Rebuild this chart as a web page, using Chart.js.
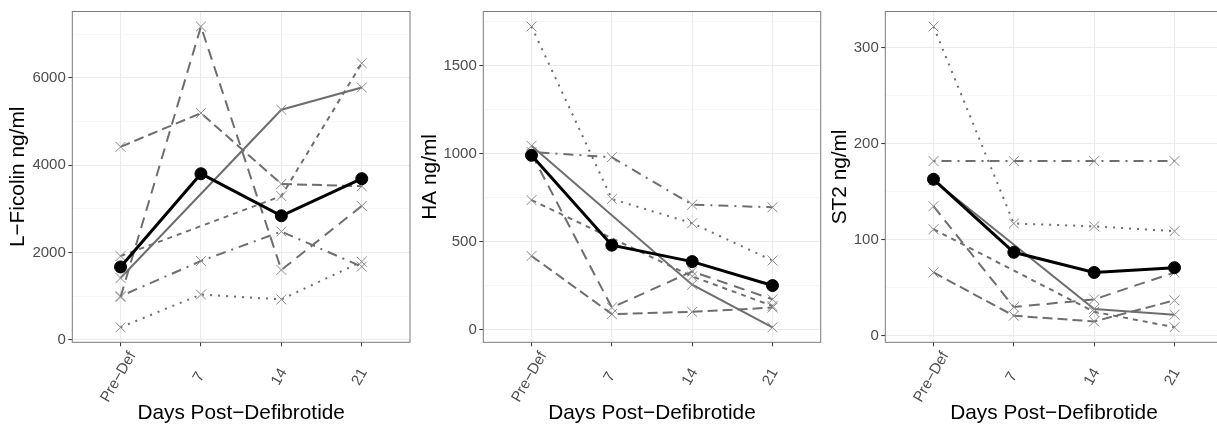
<!DOCTYPE html>
<html><head><meta charset="utf-8">
<script src="https://cdn.jsdelivr.net/npm/chart.js@4/dist/chart.umd.min.js"></script>
<style>
html,body{margin:0;padding:0;background:#fff;overflow:hidden;width:1217px;height:428px;position:relative;}
.p{position:absolute;top:0;height:428px;}
canvas{display:block;}
</style></head><body>
<div class="p" style="left:0px;width:420px"><canvas id="c1" width="420" height="428"></canvas></div>
<div class="p" style="left:420px;width:410px"><canvas id="c2" width="410" height="428"></canvas></div>
<div class="p" style="left:830px;width:402px"><canvas id="c3" width="402" height="428"></canvas></div>
<script>
// ---------- data ----------
const days = ['Pre\u2212Def', '7', '14', '21'];

// L-Ficolin (ng/ml)
const ficSolid   = [1414, null, 5270, 5780];
const ficShort   = [1917, null, 3292, 6336];
const ficDash    = [4420, 5193, 3570, 3518];
const ficLong    = [980, 7177, 1600, 3066];
const ficDotDash = [999, 1804, 2480, 1676];
const ficDot     = [286, 1037, 924, 1789];
const ficMean    = [1669, 3804, 2841, 3691];
const ficMajor   = [0, 2000, 4000, 6000];
const ficMinor   = [1000, 3000, 5000, 7000];

// HA (ng/ml)
const haSolid   = [1045, null, 257, 15];
const haShort   = [737, null, 304, 136];
const haDash    = [420, 90, 103, 127];
const haLong    = [1000, 127, 332, 174];
const haDotDash = [1010, 980, 711, 696];
const haDot     = [1722, 743, 606, 394];
const haMean    = [991, 481, 388, 252];
const haMajor   = [0, 500, 1000, 1500];
const haMinor   = [250, 750, 1250, 1750];

// ST2 (ng/ml)
const stSolid   = [162, null, 28, 22];
const stShort   = [111, null, 25, 9];
const stDash    = [66, 21, 15, 37];
const stLong    = [135, 30, 38, 66];
const stDotDash = [182, 182, 182, 182];
const stDot     = [322, 117, 114, 109];
const stMean    = [163, 87, 66, 71];
const stMajor   = [0, 100, 200, 300];
const stMinor   = [50, 150, 250];

// ---------- styles ----------
const FONT = '"Liberation Sans", Arial, Helvetica, sans-serif';
Chart.defaults.font.family = FONT;
const dashes = {
  solid: [], short: [5, 5], dash: [10, 5], long: [11, 7], dot: [2, 6], dotdash: [2, 6, 10, 6]
};

function toPts(vals) { return vals.map((v, i) => ({ x: i + 1, y: v })); }
function patient(vals, dash) {
  return {
    data: toPts(vals), borderColor: '#6e6e6e', borderWidth: 2, borderDash: dash,
    pointStyle: 'crossRot', pointRadius: 7, pointBorderColor: '#8a8a8a', pointBorderWidth: 1,
    pointBackgroundColor: 'rgba(0,0,0,0)', spanGaps: true, tension: 0, fill: false
  };
}
function meanSet(vals) {
  return {
    data: toPts(vals), borderColor: '#000', borderWidth: 3, pointStyle: 'circle',
    pointRadius: 6, pointBackgroundColor: '#000', pointBorderColor: '#000', pointBorderWidth: 1,
    tension: 0, fill: false
  };
}

const deco = {
  id: 'deco',
  afterDraw(chart, args, o) {
    const { ctx, chartArea: a, scales: { x } } = chart;
    ctx.save();
    ctx.strokeStyle = '#7a7a7a'; ctx.lineWidth = 1;
    ctx.strokeRect(a.left, a.top, a.right - a.left, a.bottom - a.top);
    ctx.fillStyle = '#4D4D4D';
    ctx.font = '15px ' + FONT;
    ctx.textAlign = 'center'; ctx.textBaseline = 'middle';
    days.forEach((d, i) => {
      const px = x.getPixelForValue(i + 1);
      ctx.save(); ctx.translate(px - 2, 377); ctx.rotate(-Math.PI / 3);
      ctx.fillText(d, 0, 0); ctx.restore();
    });
    ctx.fillStyle = '#000';
    ctx.font = '20.8px ' + FONT;
    ctx.fillText('Days Post\u2212Defibrotide', (a.left + a.right) / 2, 413);
    ctx.save(); ctx.translate(o.titleX, (a.top + a.bottom) / 2); ctx.rotate(-Math.PI / 2);
    ctx.fillText(o.yTitle, 0, 0); ctx.restore();
    ctx.restore();
  }
};

function makeChart(id, sets, meanVals, major, minor, yMin, yMax, yWidth, padRight, titleX, yTitle) {
  const all = major.concat(minor).sort((p, q) => p - q);
  const isMajor = v => major.includes(v);
  const datasets = [meanSet(meanVals)].concat(sets.map(s => patient(s[0], s[1])));
  new Chart(document.getElementById(id), {
    type: 'line',
    data: { datasets },
    plugins: [deco],
    options: {
      responsive: false, animation: false, devicePixelRatio: 1,
      layout: { padding: { top: 7.3, right: padRight, left: 0, bottom: 0 } },
      plugins: { legend: { display: false }, tooltip: { enabled: false }, deco: { titleX, yTitle } },
      scales: {
        x: {
          type: 'linear', min: 0.4, max: 4.6,
          afterBuildTicks: s => { s.ticks = days.map((d, i) => ({ value: i + 1 })); },
          ticks: { display: false },
          grid: { color: '#EBEBEB', lineWidth: 1.1, tickColor: '#333333', tickLength: 4, tickWidth: 1 },
          border: { display: false },
          afterFit: s => { s.height = 85.7; }
        },
        y: {
          type: 'linear', min: yMin, max: yMax,
          afterBuildTicks: s => { s.ticks = all.map(v => ({ value: v })); },
          ticks: {
            callback: v => isMajor(v) ? String(v) : '',
            color: '#4D4D4D', font: { size: 15, family: FONT }, padding: 2.5
          },
          grid: {
            color: c => isMajor(c.tick.value) ? '#EBEBEB' : '#F3F3F3',
            lineWidth: c => isMajor(c.tick.value) ? 1.1 : 0.7,
            tickColor: c => isMajor(c.tick.value) ? '#333333' : 'rgba(0,0,0,0)',
            tickLength: 4, tickWidth: 1
          },
          border: { display: false },
          afterFit: s => { s.width = yWidth; }
        }
      }
    }
  });
}

makeChart('c1',
  [[ficSolid, dashes.solid], [ficShort, dashes.short], [ficDash, dashes.dash], [ficLong, dashes.long], [ficDotDash, dashes.dotdash], [ficDot, dashes.dot]],
  ficMean, ficMajor, ficMinor, -58, 7521, 72.3, 10, 18, 'L\u2212Ficolin ng/ml');
makeChart('c2',
  [[haSolid, dashes.solid], [haShort, dashes.short], [haDash, dashes.dash], [haLong, dashes.long], [haDotDash, dashes.dotdash], [haDot, dashes.dot]],
  haMean, haMajor, haMinor, -70, 1807, 63.3, 9.3, 10.7, 'HA ng/ml');
makeChart('c3',
  [[stSolid, dashes.solid], [stShort, dashes.short], [stDash, dashes.dash], [stLong, dashes.long], [stDotDash, dashes.dotdash], [stDot, dashes.dot]],
  stMean, stMajor, stMinor, -6.7, 337.7, 55.3, 9.3, 10, 'ST2 ng/ml');
</script>
</body></html>
